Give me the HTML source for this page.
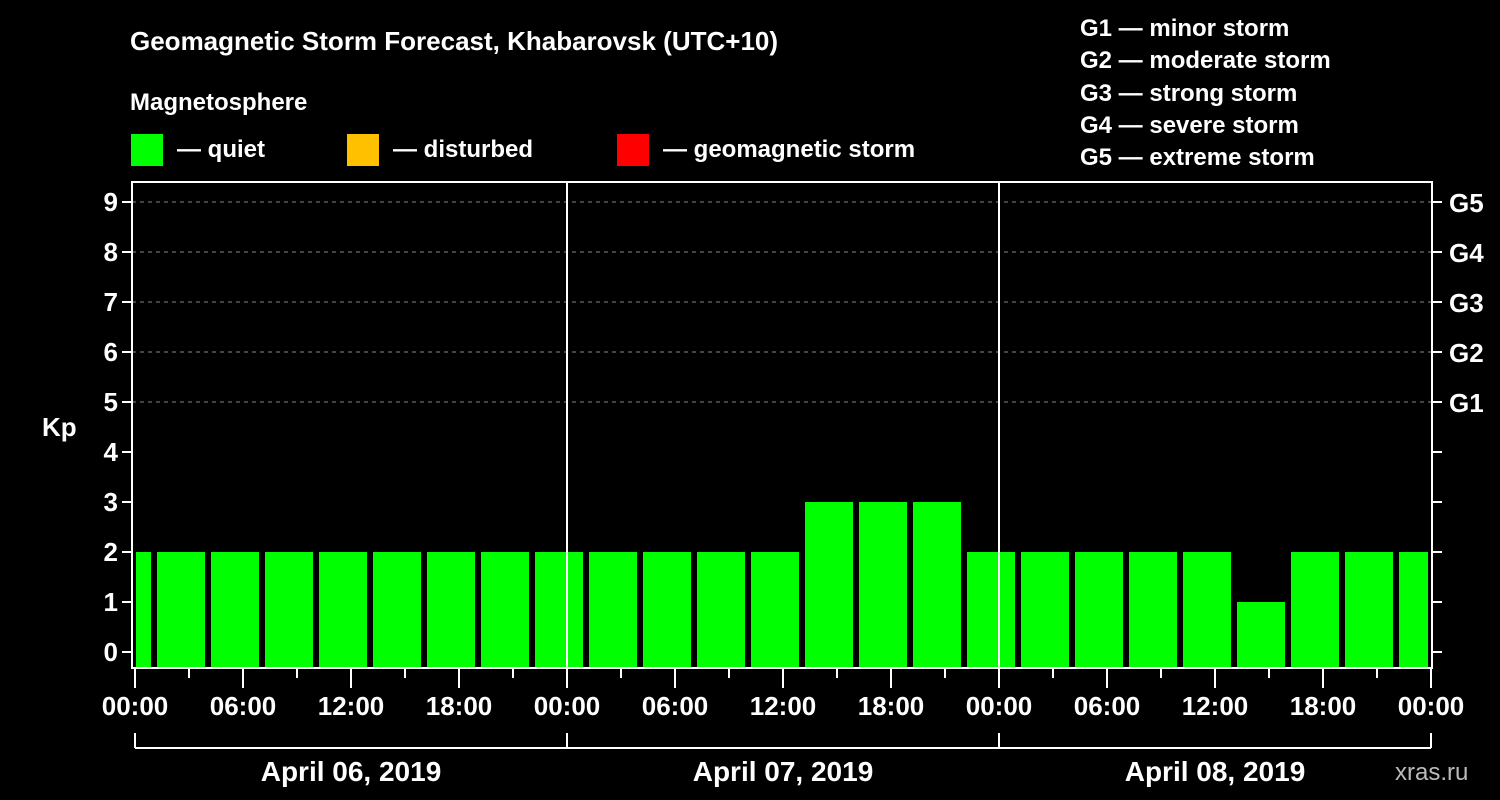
<!DOCTYPE html>
<html><head><meta charset="utf-8"><style>
body{margin:0;background:#000;}
svg{display:block;font-family:"Liberation Sans",sans-serif;font-weight:bold;}
</style></head><body>
<svg id="c" width="1500" height="800" viewBox="0 0 1500 800">
<rect width="1500" height="800" fill="#000"/>
<text x="130" y="50" fill="#fff" font-size="26">Geomagnetic Storm Forecast, Khabarovsk (UTC+10)</text>
<text x="130" y="110" fill="#fff" font-size="24">Magnetosphere</text>
<rect x="131" y="134" width="32" height="32" fill="#00ff00"/>
<text x="177" y="157" fill="#fff" font-size="24">— quiet</text>
<rect x="347" y="134" width="32" height="32" fill="#ffc000"/>
<text x="393" y="157" fill="#fff" font-size="24">— disturbed</text>
<rect x="617" y="134" width="32" height="32" fill="#ff0000"/>
<text x="663" y="157" fill="#fff" font-size="24">— geomagnetic storm</text>
<g fill="#fff" font-size="24">
<text x="1080" y="36">G1 — minor storm</text>
<text x="1080" y="68">G2 — moderate storm</text>
<text x="1080" y="101">G3 — strong storm</text>
<text x="1080" y="133">G4 — severe storm</text>
<text x="1080" y="165">G5 — extreme storm</text>
</g>
<text x="42" y="436" fill="#fff" font-size="26">Kp</text>
<text x="1395" y="780" fill="#bbb" font-size="24" font-weight="normal">xras.ru</text>
<g id="g"></g>
</svg>
<script>
const barStartHours=[-2,1,4,7,10,13,16,19,22,25,28,31,34,37,40,43,46,49,52,55,58,61,64,67,70];
const kpValues=[2,2,2,2,2,2,2,2,2,2,2,2,2,3,3,3,2,2,2,2,2,1,2,2,2];
const yTicks=[0,1,2,3,4,5,6,7,8,9];
const gLabels=["G1","G2","G3","G4","G5"];
const xTickLabels=["00:00","06:00","12:00","18:00","00:00","06:00","12:00","18:00","00:00","06:00","12:00","18:00","00:00"];
const dayLabels=["April 06, 2019","April 07, 2019","April 08, 2019"];
const NS="http://www.w3.org/2000/svg";
const g=document.getElementById('g');
const X0=135,HX=18,Y0=652,KY=50,L=132,R=1432,T=182,B=668;
const xs=h=>X0+h*HX, ys=v=>Y0-v*KY;
function mk(t,a){const e=document.createElementNS(NS,t);for(const k in a)e.setAttribute(k,a[k]);g.appendChild(e);return e;}
// grid
for(let v=5;v<=9;v++){const e=mk('line',{x1:L,x2:R,y1:ys(v),y2:ys(v),stroke:'#888','stroke-dasharray':'4,4','stroke-width':1});

}
// bars
barStartHours.forEach((h,i)=>{
 let x1=Math.max(xs(h)+4,L+4), x2=Math.min(xs(h+3)-2,R-4);
 const v=kpValues[i];
 const col=v>=5?'#ff0000':(v>=4?'#ffc000':'#00ff00');
 const e=mk('rect',{x:x1,y:ys(v),width:x2-x1,height:B-ys(v),fill:col});
 
 
});
// day separators
[1,2].forEach(d=>{const e=mk('line',{x1:xs(24*d),x2:xs(24*d),y1:T,y2:B,stroke:'#fff','stroke-width':2});

});
// frame
const fr=mk('rect',{x:L,y:T,width:R-L,height:B-T,fill:'none',stroke:'#fff','stroke-width':2});


// y ticks
yTicks.forEach(v=>{
 mk('line',{x1:L-10,x2:L,y1:ys(v),y2:ys(v),stroke:'#fff','stroke-width':2});
 mk('line',{x1:R,x2:R+10,y1:ys(v),y2:ys(v),stroke:'#fff','stroke-width':2});
 const t=mk('text',{x:L-14,y:ys(v)+9,fill:'#fff','font-size':26,'text-anchor':'end'});t.textContent=v;
 
 
});
gLabels.forEach((s,i)=>{const t=mk('text',{x:R+17,y:ys(5+i)+10,fill:'#fff','font-size':26});t.textContent=s;
 
 });
// x ticks
for(let h=0;h<=72;h+=3){mk('line',{x1:xs(h),x2:xs(h),y1:B,y2:h%6==0?688:678,stroke:'#fff','stroke-width':2});}
xTickLabels.forEach((s,i)=>{const t=mk('text',{x:xs(i*6),y:715,fill:'#fff','font-size':26,'text-anchor':'middle'});t.textContent=s;
 
 });
mk('line',{x1:xs(0),x2:xs(72),y1:748,y2:748,stroke:'#fff','stroke-width':2});
for(let d=0;d<=3;d++)mk('line',{x1:xs(24*d),x2:xs(24*d),y1:733,y2:748,stroke:'#fff','stroke-width':2});
dayLabels.forEach((s,i)=>{const t=mk('text',{x:xs(24*i+12),y:781,fill:'#fff','font-size':28,'text-anchor':'middle'});t.textContent=s;
 
 });
</script>
</body></html>
